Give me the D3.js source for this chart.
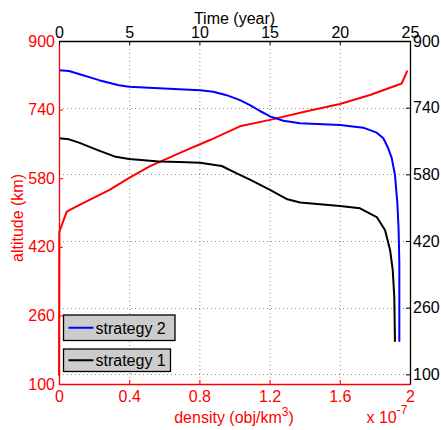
<!DOCTYPE html>
<html>
<head>
<meta charset="utf-8">
<script src="https://cdn.jsdelivr.net/npm/d3@7"></script>
<style>
  html, body { margin: 0; padding: 0; background: #fff; }
  svg text { font-family: "Liberation Sans", Arial, Helvetica, sans-serif; }
</style>
</head>
<body>
<svg id="chart" width="441" height="430"></svg>
<script>
// Debris density profile (bottom / left axes): density in 1e-7 obj/km^3, altitude in km
const densityValues  = [0.0005, 0.0017, 0.044, 0.114, 0.285, 0.405, 0.519, 0.689, 0.860, 1.031, 1.202, 1.430, 1.601, 1.772, 1.953, 1.985];
const densityAltitude = [120, 455, 502, 517, 552, 582, 608, 639, 669, 701, 716, 738, 753, 774, 801, 831];

// Orbit-raising trajectories (top / right axes): time in years, altitude in km
const s2Time = [0, 0.71, 1.42, 2.85, 4.27, 4.99, 7.12, 8.55, 10.04, 10.99, 11.94, 12.89, 13.60, 14.32, 15.03, 15.98, 17.17, 20.01, 21.67, 22.63, 23.10, 23.45, 23.70, 23.93, 24.10, 24.19, 24.24, 24.24];
const s2Alt  = [830, 828, 821, 806, 794, 790, 786.5, 784, 782, 778, 770, 758, 746, 732, 719, 708.5, 702.5, 698.5, 692, 680, 666.5, 642.5, 619, 578, 511, 446, 367, 178];

const s1Time = [0, 0.71, 1.42, 2.85, 4.04, 4.99, 7.12, 8.55, 10.04, 11.59, 12.66, 13.60, 15.03, 16.27, 17.17, 20.01, 21.44, 22.63, 23.22, 23.58, 23.77, 23.88, 23.93];
const s1Alt  = [666.5, 664, 656, 637, 622, 617, 611, 609.5, 608, 600, 582.5, 567.5, 542.5, 520, 512.5, 504, 498.5, 477.5, 446.5, 398.5, 350.5, 286, 178];

// Tick labels
const altitudeTicks = [100, 260, 420, 580, 740, 900];
const densityTicks  = [0, 0.4, 0.8, 1.2, 1.6, 2];
const timeTicks     = [0, 5, 10, 15, 20, 25];

const legendLabels = ["strategy 2", "strategy 1"];
const legendColors = ["#0000ff", "#000000"];

const svg = d3.select("#chart");
const plotL = 59, plotR = 410, plotT = 41, plotB = 384;
const RED = "#ff0000";

const xDensity = d3.scaleLinear().domain([0, 2]).range([plotL, plotR]);
const xTime    = d3.scaleLinear().domain([0, 25]).range([plotL, plotR]);
const yLeft    = d3.scaleLinear().domain([100, 900]).range([plotB, plotT]);
const yRight   = d3.scaleLinear().domain([76.8, 900]).range([plotB, plotT]);

// Dotted grid following the time / right-altitude axes
const grid = svg.append("g").attr("stroke", "#8c8c8c").attr("stroke-width", 1)
  .attr("stroke-dasharray", "1,3").attr("fill", "none");
timeTicks.filter(t => t > 0 && t < 25).forEach(t => {
  grid.append("line").attr("x1", xTime(t) + 0.5).attr("x2", xTime(t) + 0.5)
    .attr("y1", plotT).attr("y2", plotB);
});
altitudeTicks.filter(a => a < 900).forEach(a => {
  grid.append("line").attr("x1", plotL).attr("x2", plotR)
    .attr("y1", Math.round(yRight(a)) + 0.5).attr("y2", Math.round(yRight(a)) + 0.5);
});

// Data lines
const lineOf = (xs, ys, xScale, yScale) =>
  d3.line().x((d, i) => xScale(xs[i])).y((d, i) => yScale(ys[i]))(xs);

svg.append("path").attr("d", lineOf(densityValues, densityAltitude, xDensity, yLeft))
  .attr("fill", "none").attr("stroke", RED).attr("stroke-width", 2).attr("stroke-linejoin", "round");
svg.append("path").attr("d", lineOf(s2Time, s2Alt, xTime, yRight))
  .attr("fill", "none").attr("stroke", "#0000ff").attr("stroke-width", 2).attr("stroke-linejoin", "round");
svg.append("path").attr("d", lineOf(s1Time, s1Alt, xTime, yRight))
  .attr("fill", "none").attr("stroke", "#000000").attr("stroke-width", 2).attr("stroke-linejoin", "round");

// Axes
function styleAxis(g, color) {
  g.selectAll("path.domain").attr("stroke", color).attr("stroke-width", 1.3);
  g.selectAll(".tick line").attr("stroke", color).attr("stroke-width", 1);
  g.selectAll(".tick text").attr("fill", color).attr("font-size", 16)
    .attr("font-family", '"Liberation Sans", Arial, Helvetica, sans-serif');
}

const gBottom = svg.append("g").attr("transform", `translate(0,${plotB})`)
  .call(d3.axisBottom(xDensity).tickValues(densityTicks).tickFormat(d => String(d))
    .tickSizeInner(-4).tickSizeOuter(0).tickPadding(7));
styleAxis(gBottom, RED);

const gLeft = svg.append("g").attr("transform", `translate(${plotL},0)`)
  .call(d3.axisLeft(yLeft).tickValues(altitudeTicks).tickFormat(d => String(d))
    .tickSizeInner(-4).tickSizeOuter(0).tickPadding(4));
styleAxis(gLeft, RED);

const gTop = svg.append("g").attr("transform", `translate(0,${plotT})`)
  .call(d3.axisTop(xTime).tickValues(timeTicks).tickFormat(d => String(d))
    .tickSizeInner(-4).tickSizeOuter(0).tickPadding(3));
styleAxis(gTop, "#000");

const gRight = svg.append("g").attr("transform", `translate(${plotR},0)`)
  .call(d3.axisRight(yRight).tickValues(altitudeTicks).tickFormat(d => String(d))
    .tickSizeInner(-4).tickSizeOuter(0).tickPadding(3));
styleAxis(gRight, "#000");

// Axis titles
svg.append("text").attr("x", (plotL + plotR) / 2).attr("y", 24).attr("text-anchor", "middle")
  .attr("font-size", 16).attr("fill", "#000").text("Time (year)");

const xt = svg.append("text").attr("x", 234).attr("y", 423).attr("text-anchor", "middle")
  .attr("font-size", 16).attr("fill", RED);
xt.append("tspan").text("density (obj/km");
xt.append("tspan").attr("font-size", 12).attr("dy", -7).text("3");
xt.append("tspan").attr("dy", 7).text(")");

const ex = svg.append("text").attr("x", 366.5).attr("y", 423)
  .attr("font-size", 16).attr("fill", RED);
ex.append("tspan").text("x 10");
ex.append("tspan").attr("font-size", 12).attr("dy", -9).text("-7");

svg.append("text").attr("transform", "translate(22.5,218) rotate(-90)")
  .attr("text-anchor", "middle").attr("font-size", 16).attr("fill", RED).text("altitude (km)");

// Legend boxes
const legendBoxes = [
  { x: 63.5, y: 315, w: 111.5, h: 25.5 },
  { x: 63.5, y: 349, w: 107, h: 22.5 }
];
legendLabels.forEach((label, i) => {
  const b = legendBoxes[i];
  const g = svg.append("g");
  g.append("rect").attr("x", b.x).attr("y", b.y).attr("width", b.w).attr("height", b.h)
    .attr("fill", "#cccccc").attr("stroke", "#000").attr("stroke-width", 1.3);
  const cy = b.y + b.h / 2;
  g.append("line").attr("x1", 68.5).attr("x2", 93.5).attr("y1", cy).attr("y2", cy)
    .attr("stroke", legendColors[i]).attr("stroke-width", 2);
  g.append("text").attr("x", 95.5).attr("y", cy + 5.8).attr("font-size", 16)
    .attr("fill", "#000").text(label);
});
</script>
</body>
</html>
